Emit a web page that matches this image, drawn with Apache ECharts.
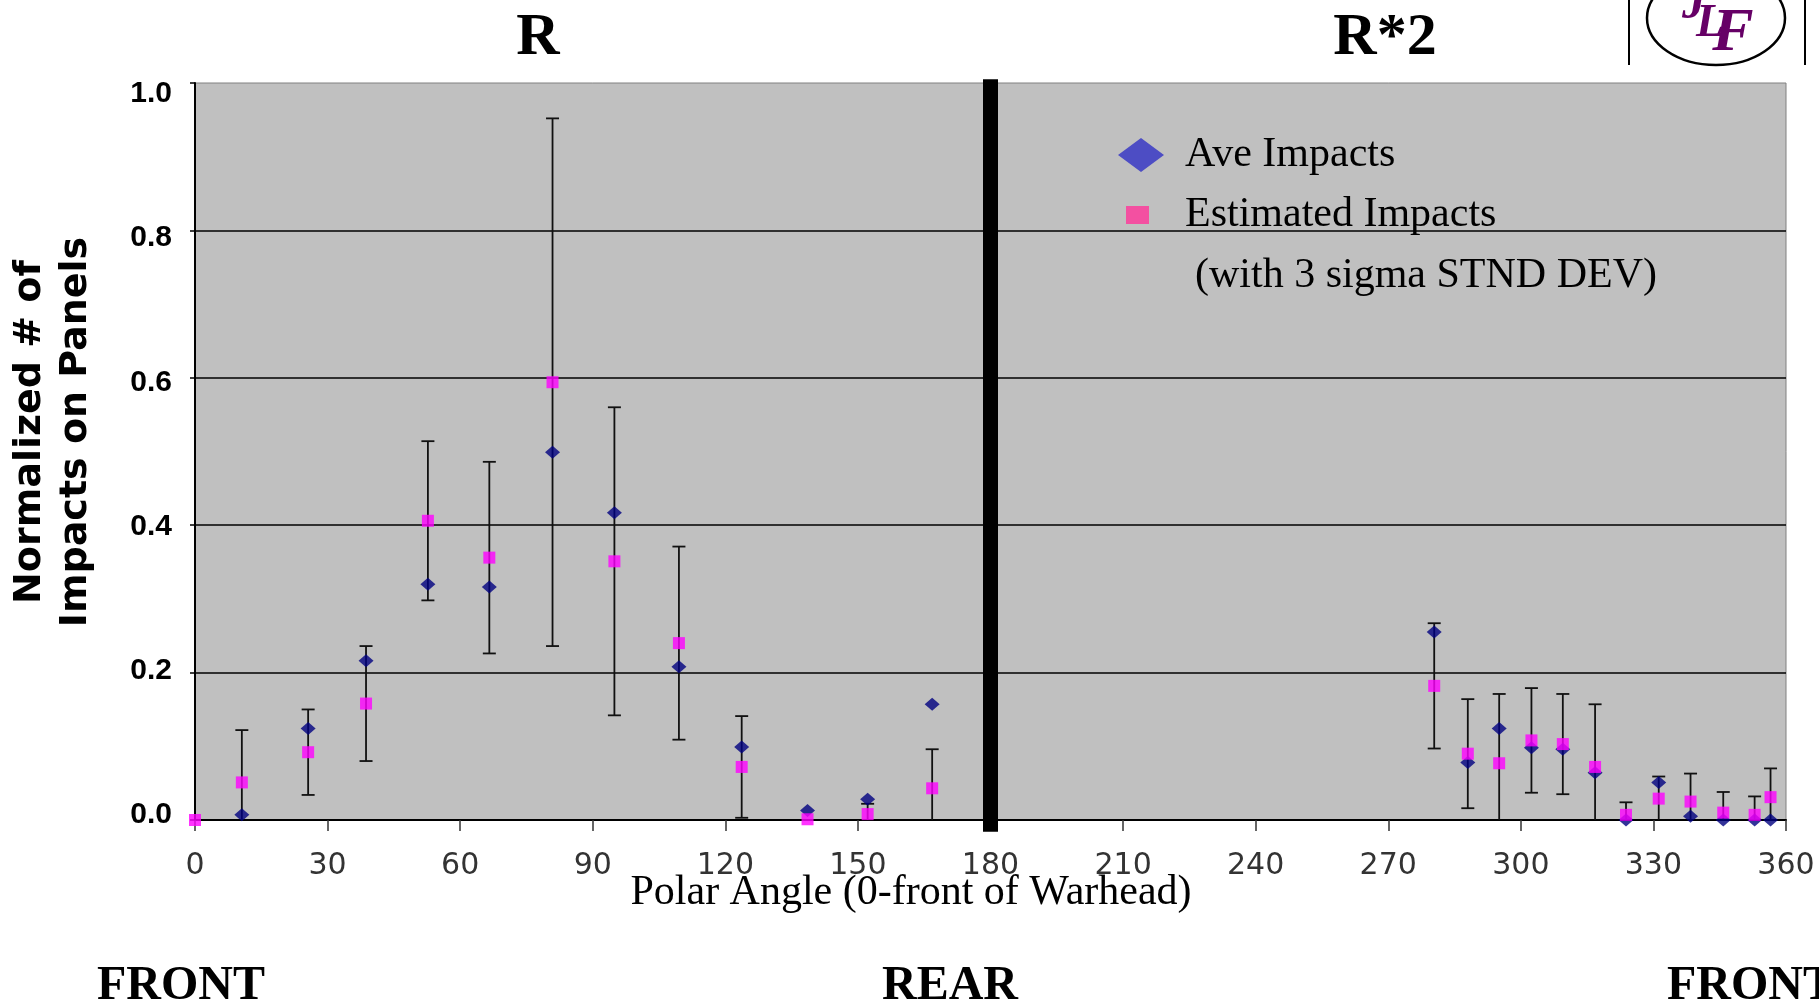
<!DOCTYPE html>
<html>
<head>
<meta charset="utf-8">
<title>Normalized impacts vs polar angle</title>
<script src="https://cdn.jsdelivr.net/npm/echarts@6/dist/echarts.min.js"></script>
<style>
  html, body { margin: 0; padding: 0; background: #fff; }
  #chart { width: 1819px; height: 1006px; }
</style>
</head>
<body>
<div id="chart"></div>
<script>
// polar angle of each panel (deg, 0 = front of warhead)
const angles = [0, 10.6, 25.6, 38.7, 52.7, 66.6, 80.9, 94.9, 109.5, 123.7, 138.6, 152.2, 166.8,
  280.4, 288.0, 295.1, 302.4, 309.5, 316.8, 323.8, 331.2, 338.4, 345.8, 352.9, 356.5];
// measured average impacts (diamonds), null = not shown
const aveImpacts = [null, 0.007, 0.124, 0.216, 0.320, 0.316, 0.499, 0.417, 0.208, 0.099, 0.013, 0.028, 0.157,
  0.255, 0.078, 0.124, 0.098, 0.096, 0.064, 0.000, 0.051, 0.005, 0.000, 0.000, 0.000];
// estimated impacts (squares)
const estImpacts = [0.000, 0.051, 0.092, 0.158, 0.406, 0.356, 0.594, 0.351, 0.240, 0.072, 0.001, 0.008, 0.043,
  0.182, 0.090, 0.077, 0.108, 0.103, 0.072, 0.007, 0.029, 0.025, 0.010, 0.007, 0.031];
// 3 sigma half width of the error bars
const estSigma3 = [0, 0.071, 0.058, 0.078, 0.108, 0.130, 0.358, 0.209, 0.131, 0.069, 0, 0.014, 0.053,
  0.085, 0.074, 0.094, 0.071, 0.068, 0.085, 0.017, 0.030, 0.038, 0.028, 0.025, 0.039];
const yTickLabels = [0, 0.2, 0.4, 0.6, 0.8, 1.0];
// thick divider at the rear (angle, from, to) - runs a bit past the plot
const rearDivider = [[180, -0.016, 1.005]];

const aveData = angles.map((a, i) => [a, aveImpacts[i]]);
const estData = angles.map((a, i) => [a, estImpacts[i]]);
const errData = angles.map((a, i) => [a, estImpacts[i] - estSigma3[i], estImpacts[i] + estSigma3[i], estSigma3[i]]);

const serif = '"Liberation Serif", "Times New Roman", serif';
const sans = '"Liberation Sans", Arial, sans-serif';

const chart = echarts.init(document.getElementById('chart'));

const barStyle = { stroke: '#111', lineWidth: 1.8 };

// helper for the free text of the slide
const txt = (text, x, y, font, align) => ({
  type: 'text', x: x, y: y,
  style: {
    text: text, font: font, fill: '#000',
    align: align || 'center', verticalAlign: 'middle',
    textAlign: align || 'center', textVerticalAlign: 'middle'
  }
});

const option = {
  backgroundColor: '#fff',
  animation: false,
  grid: {
    left: 195, right: 33, top: 83, bottom: 186,
    show: true,
    backgroundColor: '#c0c0c0',
    borderColor: '#808080',
    borderWidth: 1,
    containLabel: false,
    outerBoundsMode: 'none'
  },
  xAxis: {
    type: 'value',
    min: 0, max: 360, interval: 30,
    axisLine: { lineStyle: { color: '#000', width: 2 } },
    axisTick: { length: 11, lineStyle: { color: '#333', width: 1.5 } },
    axisLabel: { fontFamily: 'DejaVu Sans', fontSize: 30, color: '#333', margin: 31 },
    splitLine: { show: false }
  },
  yAxis: [
    {
      type: 'value',
      position: 'left',
      min: 0, max: 1, interval: 0.2,
      axisLine: { show: true, lineStyle: { color: '#000', width: 2 } },
      axisTick: { show: true, length: 5, lineStyle: { color: '#000', width: 1.5 } },
      axisLabel: { show: false },
      splitLine: { show: true, showMaxLine: false, lineStyle: { color: '#000', width: 1.5 } },
      name: 'Normalized # of\nImpacts on Panels',
      nameLocation: 'middle',
      nameGap: 96,
      nameTextStyle: {
        fontFamily: 'DejaVu Sans', fontWeight: 'bold', fontSize: 38,
        lineHeight: 46, color: '#000', padding: [0, 0, 0, 39]
      }
    },
    {
      // label-only axis, the tick labels in the picture sit a little off the gridlines
      type: 'value',
      position: 'left',
      min: -0.0069, max: 1.0149,
      axisLine: { show: false },
      axisTick: { show: false },
      splitLine: { show: false },
      axisLabel: {
        customValues: yTickLabels,
        formatter: v => v.toFixed(1),
        fontFamily: sans, fontWeight: 'bold', fontSize: 30, color: '#000', margin: 23
      }
    }
  ],
  legend: [
    {
      data: [{ name: 'Ave Impacts', icon: 'path://M0,17L23,0L46,17L23,34Z', itemStyle: { color: '#2f2fc4' } }],
      left: 1118, top: 134, padding: 0,
      itemWidth: 46, itemHeight: 34,
      selectedMode: false,
      textStyle: { fontFamily: serif, fontSize: 42, color: '#000', padding: [0, 0, 0, 16] }
    },
    {
      data: [{ name: 'Estimated Impacts', icon: 'path://M0,0H23V18H0Z', itemStyle: { color: '#ff3399' } }],
      left: 1126, top: 194, padding: 0,
      itemWidth: 23, itemHeight: 18,
      selectedMode: false,
      textStyle: { fontFamily: serif, fontSize: 42, color: '#000', padding: [0, 0, 0, 31] }
    }
  ],
  graphic: [
    txt('R', 538, 38, 'bold 60px ' + serif),
    txt('R*2', 1385, 38, 'bold 60px ' + serif),
    txt('Polar Angle (0-front of Warhead)', 911, 893, '42px ' + serif),
    txt('(with 3 sigma STND DEV)', 1195, 276, '42px ' + serif, 'left'),
    txt('FRONT', 181, 987, 'bold 48px ' + serif),
    txt('REAR', 950, 987, 'bold 48px ' + serif),
    txt('FRONT', 1751, 987, 'bold 48px ' + serif),
    // logo, top right
    { type: 'line', shape: { x1: 1629, y1: 0, x2: 1629, y2: 65 }, style: { stroke: '#000', lineWidth: 2 } },
    { type: 'line', shape: { x1: 1805, y1: 0, x2: 1805, y2: 65 }, style: { stroke: '#000', lineWidth: 2 } },
    { type: 'ellipse', shape: { cx: 1716, cy: 18, rx: 69, ry: 47 }, style: { fill: 'none', stroke: '#000', lineWidth: 2.5 } },
    { type: 'text', x: 1694, y: 6, style: { text: 'J', font: 'italic bold 48px ' + serif, fill: '#660066', align: 'center', verticalAlign: 'middle', textAlign: 'center', textVerticalAlign: 'middle' } },
    { type: 'text', x: 1710, y: 24, style: { text: 'L', font: 'italic bold 46px ' + serif, fill: '#660066', align: 'center', verticalAlign: 'middle', textAlign: 'center', textVerticalAlign: 'middle' } },
    { type: 'text', x: 1733, y: 34, style: { text: 'F', font: 'italic bold 62px ' + serif, fill: '#660066', align: 'center', verticalAlign: 'middle', textAlign: 'center', textVerticalAlign: 'middle' } }
  ],
  series: [
    {
      name: 'rear',
      type: 'custom',
      clip: false,
      silent: true,
      z: 3,
      data: rearDivider,
      renderItem: function (params, api) {
        const top = api.coord([api.value(0), api.value(2)]);
        const bot = api.coord([api.value(0), api.value(1)]);
        return {
          type: 'line',
          shape: { x1: top[0], y1: top[1], x2: bot[0], y2: bot[1] },
          style: { stroke: '#000', lineWidth: 15, lineCap: 'butt' }
        };
      }
    },
    {
      name: '3 sigma',
      type: 'custom',
      clip: true,
      silent: true,
      data: errData,
      renderItem: function (params, api) {
        if (!api.value(3)) return null;
        const x = api.value(0);
        const lo = api.coord([x, api.value(1)]);
        const hi = api.coord([x, api.value(2)]);
        const w = 6.5;
        return {
          type: 'group',
          children: [
            { type: 'line', shape: { x1: hi[0], y1: hi[1], x2: lo[0], y2: lo[1] }, style: barStyle },
            { type: 'line', shape: { x1: hi[0] - w, y1: hi[1], x2: hi[0] + w, y2: hi[1] }, style: barStyle },
            { type: 'line', shape: { x1: lo[0] - w, y1: lo[1], x2: lo[0] + w, y2: lo[1] }, style: barStyle }
          ]
        };
      }
    },
    {
      name: 'Ave Impacts',
      type: 'scatter',
      symbol: 'diamond',
      symbolSize: [15, 13],
      itemStyle: { color: '#000080' },
      data: aveData
    },
    {
      name: 'Estimated Impacts',
      type: 'scatter',
      symbol: 'rect',
      symbolSize: 12,
      itemStyle: { color: '#ff00ff' },
      data: estData
    }
  ]
};

option && chart.setOption(option);
</script>
</body>
</html>
